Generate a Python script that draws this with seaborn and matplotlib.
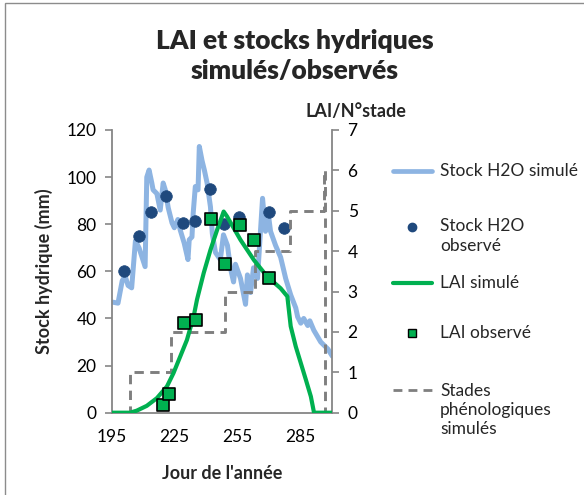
import matplotlib
matplotlib.use("Agg")
import matplotlib.pyplot as plt
import matplotlib.patches as mpatches
from matplotlib.lines import Line2D
import seaborn as sns
import pandas as pd

# ---------------- data ----------------
jour_stock_sim = [195, 198, 200, 201.4, 202.8, 204.5, 206.3, 208, 210.9, 211.7, 212.8, 214.1, 214.7,
                  216.5, 218.1, 219.5, 220.5, 221.9, 223.7, 224.8, 226.5, 227.6, 229.5, 231.3, 231.9,
                  233.2, 233.8, 234.8, 236.1, 236.7, 238, 239.1, 240.4, 242, 242.9, 244.4, 246.7,
                  248.2, 250.1, 251.5, 253, 253.9, 256.3, 258.7, 259.6, 261.1, 262.5, 264.4, 266.8,
                  268.2, 269.6, 270.6, 273, 275.4, 277.8, 280.2, 282.6, 283.5, 285, 286.4, 288.3,
                  289.3, 291.2, 294.5, 297.9, 300]
stock_sim = [47, 46.5, 56, 58, 54, 53, 73, 70, 62, 100, 103, 97.5, 94.6,
             93, 86, 97.5, 94.6, 87, 80.6, 78.5, 82, 77.6, 72, 65, 73.4,
             74.6, 84.8, 96, 94.6, 113, 107, 103, 97.5, 87.4, 76, 68, 65,
             75.5, 71, 61.5, 55.5, 63, 57, 46, 58.5, 51, 61.5, 57, 91,
             77, 84, 77, 71, 66, 57, 50, 44.5, 40.7, 38, 40, 37,
             39, 35, 30, 27, 24]

jour_stock_obs = [200.7, 207.9, 213.7, 220.8, 229.0, 234.7, 241.9, 248.6, 255.8, 270.0, 276.8]
stock_obs = [60, 75, 85, 92, 80.5, 81.5, 95, 80, 83, 85, 78.5]

jour_lai_sim = [195, 203.7, 206.9, 211.7, 216.5, 221.3, 224.4, 227.6, 230.8, 234, 235.6, 238.8,
                242, 245.2, 248.3, 249.9, 256.3, 262.7, 269, 275.4, 278.6, 280.2, 282.6, 285,
                287.4, 289.8, 291.3, 300]
lai_sim = [0, 0, 0.05, 0.17, 0.36, 0.65, 0.98, 1.39, 1.8, 2.38, 2.8, 3.46,
           4.03, 4.53, 4.98, 4.86, 4.28, 3.78, 3.37, 3.08, 2.88, 2.14, 1.64, 1.23,
           0.82, 0.40, 0.0, 0.0]

jour_lai_obs = [219.4, 222.3, 229.4, 235.2, 242.4, 249.0, 256.2, 262.9, 270.1]
lai_obs = [0.2, 0.47, 2.23, 2.3, 4.8, 3.69, 4.65, 4.28, 3.34]

jour_stade = [195, 203.6, 223.2, 248.7, 263.2, 279.7, 296.1, 296.6, 300]
stade = [0, 1, 2, 3, 4, 5, 6, 0, 0]

x_ticks = [195, 225, 255, 285]
y_ticks_left = [0, 20, 40, 60, 80, 100, 120]
y_ticks_right = [0, 1, 2, 3, 4, 5, 6, 7]

titre = "LAI et stocks hydriques\nsimulés/observés"
labels = ["Stock H2O simulé", "Stock H2O\nobservé", "LAI simulé", "LAI observé",
          "Stades\nphénologiques\nsimulés"]

# ---------------- style ----------------
sns.set_style("white")
plt.rcParams["font.family"] = ["Lato", "DejaVu Sans"]

C_BLUE = "#8DB4E2"
C_DOT = "#1F497D"
C_GREEN = "#00B050"
C_GRAY = "#7F7F7F"
C_AX = "#868686"

W, H = 584, 495
fig = plt.figure(figsize=(W / 100, H / 100), dpi=100)
ax = fig.add_axes([111.7 / W, 1 - 412.7 / H, (332.3 - 111.7) / W, (412.7 - 130) / H])
ax2 = ax.twinx()

df_ss = pd.DataFrame({"jour": jour_stock_sim, "val": stock_sim})
df_so = pd.DataFrame({"jour": jour_stock_obs, "val": stock_obs})
df_ls = pd.DataFrame({"jour": jour_lai_sim, "val": lai_sim})
df_lo = pd.DataFrame({"jour": jour_lai_obs, "val": lai_obs})
df_st = pd.DataFrame({"jour": jour_stade, "val": stade})

sns.lineplot(data=df_ss, x="jour", y="val", ax=ax, color=C_BLUE, lw=3.6,
             estimator=None, sort=False, legend=False, zorder=2)
sns.scatterplot(data=df_so, x="jour", y="val", ax=ax, color=C_DOT, s=70,
                edgecolor=C_DOT, linewidth=0.5, legend=False, zorder=3)

sns.lineplot(data=df_st, x="jour", y="val", ax=ax2, color=C_GRAY, lw=2.1,
             linestyle=(0, (3.2, 2.2)), drawstyle="steps-post",
             estimator=None, sort=False, legend=False, zorder=2)
sns.lineplot(data=df_ls, x="jour", y="val", ax=ax2, color=C_GREEN, lw=3.0,
             estimator=None, sort=False, legend=False, zorder=3)
sns.scatterplot(data=df_lo, x="jour", y="val", ax=ax2, color=C_GREEN, marker="s",
                s=75, edgecolor="black", linewidth=1.2, legend=False, zorder=4)

ax.set_xlim(195, 300)
ax.set_ylim(0, 120)
ax2.set_ylim(0, 7)
ax.set_xticks(x_ticks)
ax.set_yticks(y_ticks_left)
ax2.set_yticks(y_ticks_right)
ax.set_xlabel("Jour de l'année", fontsize=13, fontweight="bold", labelpad=14)
ax.set_ylabel("Stock hydrique (mm)", fontsize=13, fontweight="bold", labelpad=10)
ax2.set_ylabel("")

for a in (ax, ax2):
    for s in a.spines.values():
        s.set_visible(False)
    a.tick_params(colors=C_AX, labelcolor="black", labelsize=12.5, length=5, width=1.2,
                  direction="out")
    a.grid(False)
    a.set_facecolor("none")
ax.spines["left"].set_visible(True)
ax.spines["bottom"].set_visible(True)
ax2.spines["right"].set_visible(True)
for sp in (ax.spines["left"], ax.spines["bottom"], ax2.spines["right"]):
    sp.set_color(C_AX)
    sp.set_linewidth(1.3)
ax.tick_params(axis="y", pad=6)
ax.tick_params(axis="x", pad=7)
ax2.tick_params(axis="y", pad=6)
ax.patch.set_visible(False)

fig.text(356 / W, 1 - 112 / H, "LAI/N°stade", ha="center", va="center",
         fontsize=13, fontweight="bold")
fig.text(295 / W, 1 - 56 / H, titre, ha="center", va="center", fontsize=19,
         fontweight="heavy", linespacing=1.3)

# ---------------- legend (manual layout) ----------------
x0, x1, xt = 393 / W, 432 / W, 440 / W
ys = [171, 236, 283, 333, 410]
fig.add_artist(Line2D([x0, x1], [1 - ys[0] / H] * 2, color=C_BLUE, lw=3.4))
fig.add_artist(Line2D([(x0 + x1) / 2], [1 - 227 / H], color=C_DOT, marker="o", ms=6,
                      lw=0))
fig.add_artist(Line2D([x0, x1], [1 - ys[2] / H] * 2, color=C_GREEN, lw=3.0))
fig.add_artist(Line2D([(x0 + x1) / 2], [1 - ys[3] / H], color=C_GREEN, marker="s", ms=6,
                      mec="black", mew=1.0, lw=0))
fig.add_artist(Line2D([x0, x1], [1 - 390 / H] * 2, color=C_GRAY, lw=2.0,
                      linestyle=(0, (3.2, 2.2))))
fs_leg = 12.5
fig.text(xt, 1 - ys[0] / H, labels[0], ha="left", va="center", fontsize=fs_leg)
fig.text(xt, 1 - ys[1] / H, labels[1], ha="left", va="center", fontsize=fs_leg,
         linespacing=1.25)
fig.text(xt, 1 - ys[2] / H, labels[2], ha="left", va="center", fontsize=fs_leg)
fig.text(xt, 1 - ys[3] / H, labels[3], ha="left", va="center", fontsize=fs_leg)
fig.text(xt, 1 - ys[4] / H, labels[4], ha="left", va="center", fontsize=fs_leg,
         linespacing=1.25)

# chart-area border
fig.add_artist(mpatches.Rectangle((5 / W, -0.05), 1.0, 1 - 3 / H + 0.05,
                                  transform=fig.transFigure, fill=False,
                                  edgecolor="#8C8C8C", lw=1.0, clip_on=False))

fig.savefig("out.png", dpi=100)
